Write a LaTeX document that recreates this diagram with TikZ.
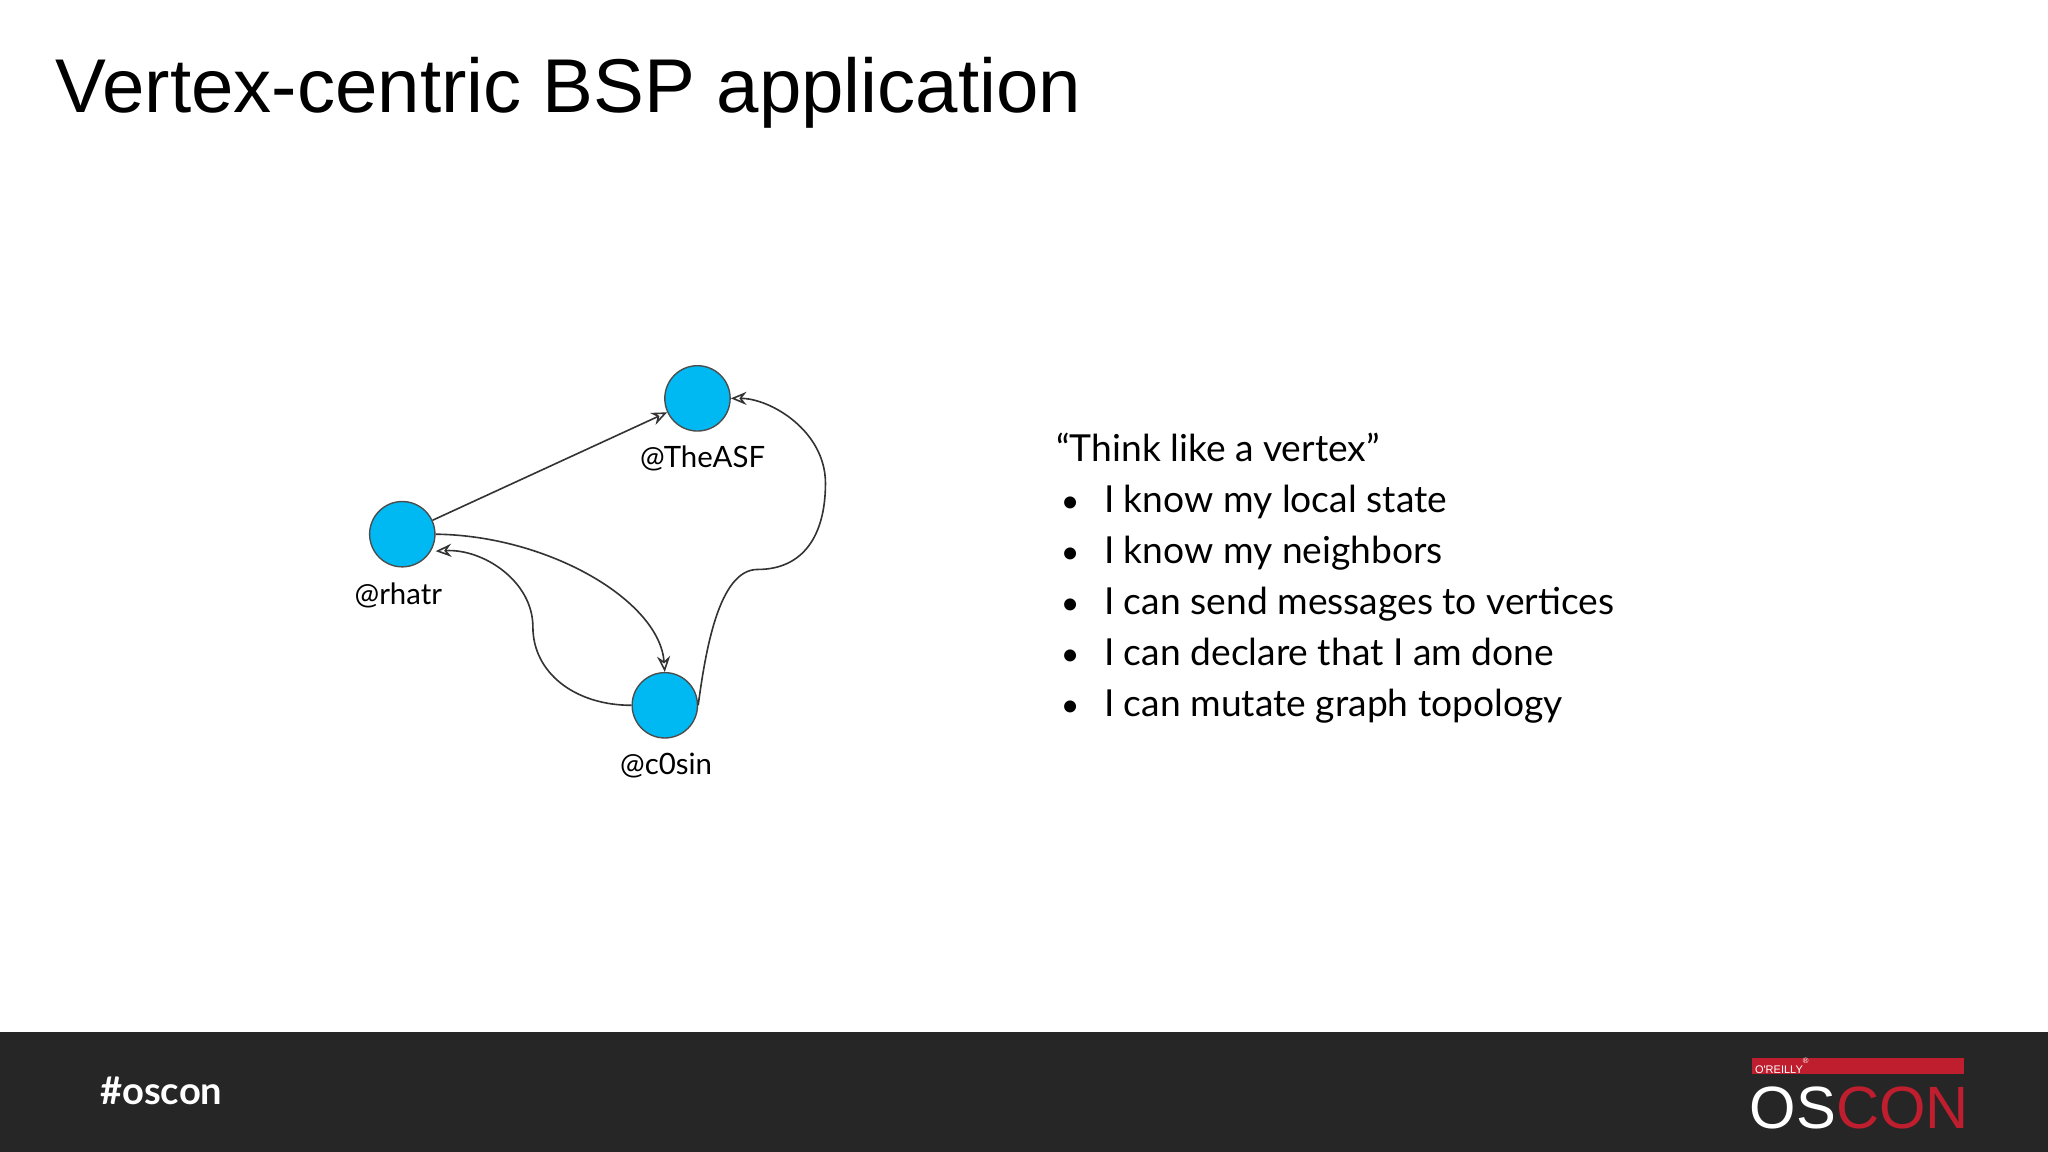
\documentclass[tikz,border=0pt]{standalone}
\usepackage{fontspec}
\setmainfont{Lato}
\newfontfamily\titlefont{Liberation Sans}
\usetikzlibrary{arrows.meta}
\definecolor{vcol}{RGB}{0,185,242}
\definecolor{barcol}{RGB}{38,38,38}
\definecolor{orred}{RGB}{190,30,45}
\tikzset{
  vert/.style={circle,fill=vcol,draw=black!70,line width=0.3pt,minimum size=0.5cm,inner sep=0pt},
  vlabel/.style={font=\fontsize{6.4}{7}\selectfont,inner sep=0pt},
  edge/.style={draw=black!80,line width=0.35pt,-{Stealth[length=1.2mm,width=1mm,open]}},
}
\newcommand{\bul}{\makebox[10.4pt][l]{\hspace{1pt}{\scriptsize•}}}
\begin{document}
\begin{tikzpicture}[x=0.01cm,y=-0.01cm]
\useasboundingbox (0,0) rectangle (1568,882);
\fill[white] (0,0) rectangle (1568,790);
\fill[barcol] (0,790) rectangle (1568,882);
\node[anchor=west,inner sep=0pt,font=\titlefont\fontsize{16.6}{20}\selectfont] (title) at (42,71) {Vertex-centric BSP application};
\node[vert] (asf) at (534,305) {};
\node[vert] (rh) at (308,409) {};
\node[vert] (c0) at (509,540) {};
\node[vlabel] (lasf) at (538,351) {@TheASF};
\node[vlabel] (lrh) at (305,456) {@rhatr};
\node[vlabel] (lc0) at (510,586) {@c0sin};
\draw[edge] (rh) -- (asf);
\draw[edge] (rh.east) .. controls (420,410) and (505,460) .. (c0.north);
\draw[edge] (c0.west) .. controls (440,540) and (408,515) .. (408,480) .. controls (408,445) and (370,420) .. (rh.east|-0,422);
\draw[edge] (c0.east) .. controls (540,500) and (550,436) .. (580,436) .. controls (615,436) and (632,410) .. (632,370) .. controls (632,330) and (590,305) .. (asf.east);
\node[anchor=north west,inner sep=0pt,font=\fontsize{8.1}{11.1}\selectfont,align=left] (txt) at (808,331) {%
``Think like a vertex''\\
\bul I know my local state\\
\bul I know my neighbors\\
\bul I can send messages to vertices\\
\bul I can declare that I am done\\
\bul I can mutate graph topology};
\node[anchor=west,inner sep=0pt,text=white,font=\bfseries\fontsize{8.3}{10}\selectfont] (tag) at (76,835) {\#oscon};
\fill[orred] (1341,810) rectangle (1504,822);
\node[anchor=west,inner sep=0pt,text=white,font=\titlefont\fontsize{2.4}{3}\selectfont] (ore) at (1343,816) {O'REILLY\textsuperscript{\textregistered}};
\node[anchor=west,inner sep=0pt,font=\titlefont\fontsize{13}{14}\selectfont] (logo) at (1339,848) {\textcolor{white}{OS}\textcolor{orred}{CON}};
\end{tikzpicture}
\end{document}
